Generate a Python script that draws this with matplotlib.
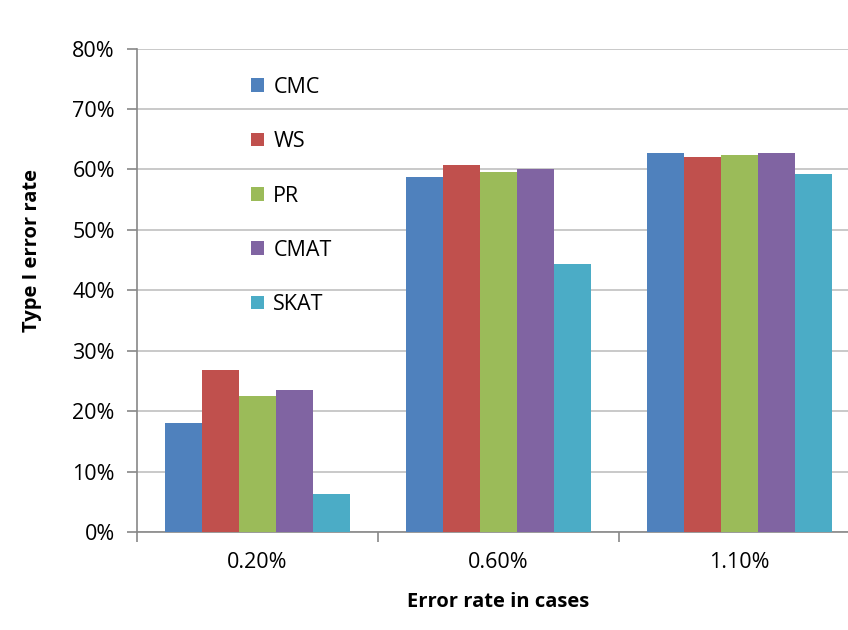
import numpy as np
import matplotlib.pyplot as plt
from matplotlib.ticker import PercentFormatter

plt.rcParams['font.family'] = ['Open Sans', 'DejaVu Sans']

categories = ['0.20%', '0.60%', '1.10%']
series = ['CMC', 'WS', 'PR', 'CMAT', 'SKAT']
cmc = [18.0, 58.8, 62.8]
ws = [26.9, 60.8, 62.1]
pr = [22.6, 59.5, 62.4]
cmat = [23.6, 60.0, 62.7]
skat = [6.4, 44.4, 59.3]
values = [cmc, ws, pr, cmat, skat]
colors = ['#4F81BD', '#C0504D', '#9BBB59', '#8064A2', '#4BACC6']

fig = plt.figure(figsize=(8.48, 6.3), dpi=100)
# axes run past the right edge of the picture, like the cropped original
ax = fig.add_axes([0.1616, 0.155, 0.8526, 0.768])

n = len(series)
bar_w = 0.768 / n
x = np.arange(len(categories)) + 0.5
for i, (name, vals, col) in enumerate(zip(series, values, colors)):
    offs = (i - (n - 1) / 2) * bar_w
    ax.bar(x + offs, vals, width=bar_w, color=col, label=name, zorder=3)

ax.set_xlim(0, len(categories))
ax.set_ylim(0, 80)
ax.set_yticks(np.arange(0, 81, 10))
ax.yaxis.set_major_formatter(PercentFormatter(decimals=0))
ax.grid(axis='y', color='#c0c0c0', linewidth=1.2, zorder=0)

# category labels between boundary ticks
ax.set_xticks(np.arange(len(categories) + 1))
ax.set_xticklabels([])
ax.set_xticks(x, minor=True)
ax.set_xticklabels(categories, minor=True)
ax.tick_params(axis='x', which='minor', length=0, pad=14, labelsize=15.5)
ax.tick_params(axis='x', which='major', length=7, color='#888888', width=1.2)
ax.tick_params(axis='y', length=7, color='#888888', width=1.2, labelsize=15.5, pad=9)

for s in ['top', 'right']:
    ax.spines[s].set_visible(False)
for s in ['left', 'bottom']:
    ax.spines[s].set_color('#888888')
    ax.spines[s].set_linewidth(1.2)

ax.set_ylabel('Type I error rate', fontsize=14.5, fontweight='bold')
ax.yaxis.set_label_coords(-0.131, 0.583)
ax.set_xlabel('Error rate in cases', fontsize=14.5, fontweight='bold', labelpad=14)

ax.legend(loc='upper left', bbox_to_anchor=(240 / 848, 1 - 66 / 630),
          bbox_transform=fig.transFigure, frameon=False, fontsize=15.5,
          handlelength=0.6, handleheight=0.6, handletextpad=0.45,
          labelspacing=1.55, borderpad=0)

fig.savefig('out.png', dpi=100)
